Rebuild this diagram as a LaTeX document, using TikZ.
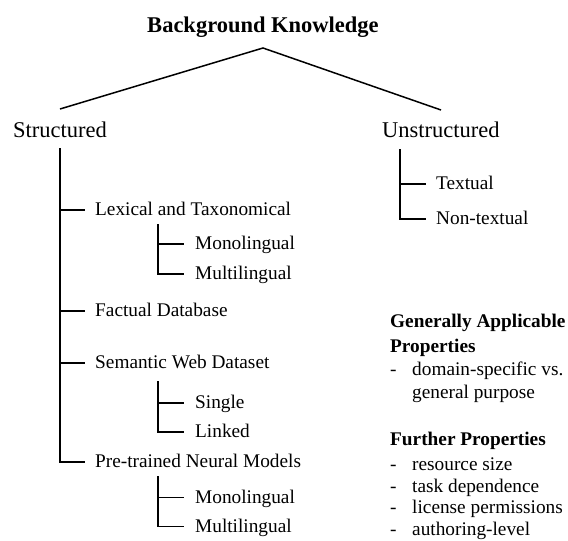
\documentclass[tikz,border=0pt]{standalone}
\usepackage{fontspec}
\setmainfont{Liberation Serif}
\usetikzlibrary{calc}
\tikzset{
  lbl/.style={anchor=base west, inner sep=0pt, font=\fontsize{19.3}{22}\selectfont},
  big/.style={anchor=base west, inner sep=0pt, font=\fontsize{22.5}{26}\selectfont},
  hd/.style={anchor=base west, inner sep=0pt, font=\fontsize{19.3}{22}\selectfont\bfseries},
  ln/.style={line width=1.5pt, line cap=rect},
}
\begin{document}
\begin{tikzpicture}[x=1pt,y=-1pt]
\useasboundingbox (0,0) rectangle (568,541);
% title and first level
\node[anchor=base, inner sep=0pt, font=\fontsize{22.5}{26}\selectfont\bfseries] (bk) at (263,32) {Background Knowledge};
\node[big] (st) at (13,137) {Structured};
\node[big] (un) at (382,137) {Unstructured};
\coordinate (apex) at (263,48);
\coordinate (stend) at (60,109);
\coordinate (unend) at (441,110);
\draw[line width=1.5pt] (stend) -- (apex) -- (unend);
% structured children
\node[lbl] (lex) at (95,215.5) {Lexical and Taxonomical};
\node[lbl] (mono1) at (195,249.5) {Monolingual};
\node[lbl] (multi1) at (195,279.5) {Multilingual};
\node[lbl] (fac) at (95,316.5) {Factual Database};
\node[lbl] (sem) at (95,368.5) {Semantic Web Dataset};
\node[lbl] (sgl) at (195,408.5) {Single};
\node[lbl] (lnk) at (195,437.5) {Linked};
\node[lbl] (pre) at (95,467.5) {Pre-trained Neural Models};
\node[lbl] (mono2) at (195,503) {Monolingual};
\node[lbl] (multi2) at (195,532) {Multilingual};
% main structured line
\coordinate (stop) at (60,149);
\draw[ln] (stop) |- ($(pre.base west)+(-11,-5.5)$);
\foreach \n in {lex,fac,sem}{
  \draw[ln] (stop |- {$(\n.base west)+(0,-5.5)$}) -- ($(\n.base west)+(-11,-5.5)$);
}
% sub lines
\coordinate (lexsub) at (158,225);
\draw[ln] (lexsub) |- ($(multi1.base west)+(-12,-5.5)$);
\draw[ln] (lexsub |- {$(mono1.base west)+(0,-5.5)$}) -- ($(mono1.base west)+(-12,-5.5)$);
\coordinate (semsub) at (158,382);
\draw[ln] (semsub) |- ($(lnk.base west)+(-12,-5.5)$);
\draw[ln] (semsub |- {$(sgl.base west)+(0,-5.5)$}) -- ($(sgl.base west)+(-12,-5.5)$);
\coordinate (presub) at (158,477);
\draw[ln] (presub) |- ($(multi2.base west)+(-12,-5.5)$);
\draw[ln] (presub |- {$(mono2.base west)+(0,-5.5)$}) -- ($(mono2.base west)+(-12,-5.5)$);
% unstructured children
\node[lbl] (txt) at (436,189.5) {Textual};
\node[lbl] (ntxt) at (436,224.5) {Non-textual};
\coordinate (utop) at (400,150);
\draw[ln] (utop) |- ($(ntxt.base west)+(-11,-5.5)$);
\draw[ln] (utop |- {$(txt.base west)+(0,-5.5)$}) -- ($(txt.base west)+(-11,-5.5)$);
% properties
\node[hd] (ga1) at (390,327) {Generally Applicable};
\node[hd] (ga2) at (390,352) {Properties};
\node[lbl] (d1) at (390,375) {-};
\node[lbl] (g1) at (412,375) {domain-specific vs.};
\node[lbl] (g2) at (412,398) {general purpose};
\node[hd] (fp) at (390,445) {Further Properties};
\node[lbl] (d2) at (390,470) {-};
\node[lbl] (f1) at (412,470) {resource size};
\node[lbl] (d3) at (390,492) {-};
\node[lbl] (f2) at (412,492) {task dependence};
\node[lbl] (d4) at (390,513) {-};
\node[lbl] (f3) at (412,513) {license permissions};
\node[lbl] (d5) at (390,535) {-};
\node[lbl] (f4) at (412,535) {authoring-level};
\end{tikzpicture}
\end{document}
